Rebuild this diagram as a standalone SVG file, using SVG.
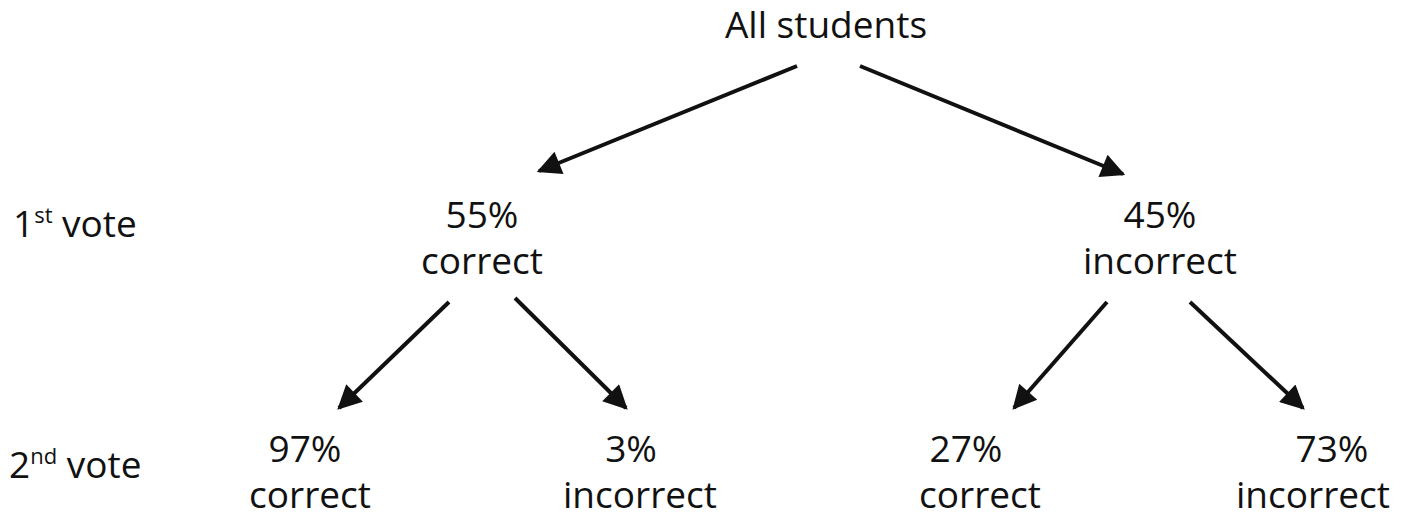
<svg xmlns="http://www.w3.org/2000/svg" width="1417" height="519" viewBox="0 0 1417 519">
<style>
text{font-family:"Open Sans","Noto Sans",sans-serif;font-size:37px;fill:#111;text-anchor:middle}
.l{text-anchor:start}
.c line{stroke:#111;stroke-width:4}
</style>
<defs><marker id="a" viewBox="0 0 10 10" refX="9" refY="5" markerWidth="7" markerHeight="6" markerUnits="strokeWidth" orient="auto"><path d="M0,0L10,5L0,10z" fill="#111"/></marker></defs>
<rect width="1417" height="519" fill="#fff"/>
<g id="root"><text x="826" y="38">All students</text></g>
<g id="label1"><text class="l" x="13" y="237">1<tspan font-size="22" dy="-14">st</tspan><tspan dy="14"> vote</tspan></text></g>
<g id="label2"><text class="l" x="9" y="478">2<tspan font-size="22" dy="-14">nd</tspan><tspan dy="14"> vote</tspan></text></g>
<g id="n1"><text x="482" y="228">55%</text><text x="482" y="274">correct</text></g>
<g id="n2"><text x="1160" y="228">45%</text><text x="1160" y="274">incorrect</text></g>
<g id="n3"><text x="305" y="462">97%</text><text x="310" y="508">correct</text></g>
<g id="n4"><text x="631" y="462">3%</text><text x="640" y="508">incorrect</text></g>
<g id="n5"><text x="966" y="462">27%</text><text x="980" y="508">correct</text></g>
<g id="n6"><text x="1332" y="462">73%</text><text x="1313" y="508">incorrect</text></g>
<g class="c" id="connectors">
<line x1="797" y1="66" x2="539" y2="171" marker-end="url(#a)"/>
<line x1="860" y1="66" x2="1123" y2="174" marker-end="url(#a)"/>
<line x1="449" y1="302" x2="339" y2="408" marker-end="url(#a)"/>
<line x1="515" y1="298" x2="626" y2="408" marker-end="url(#a)"/>
<line x1="1107" y1="302" x2="1014" y2="408" marker-end="url(#a)"/>
<line x1="1190" y1="302" x2="1303" y2="408" marker-end="url(#a)"/>
</g>
</svg>
